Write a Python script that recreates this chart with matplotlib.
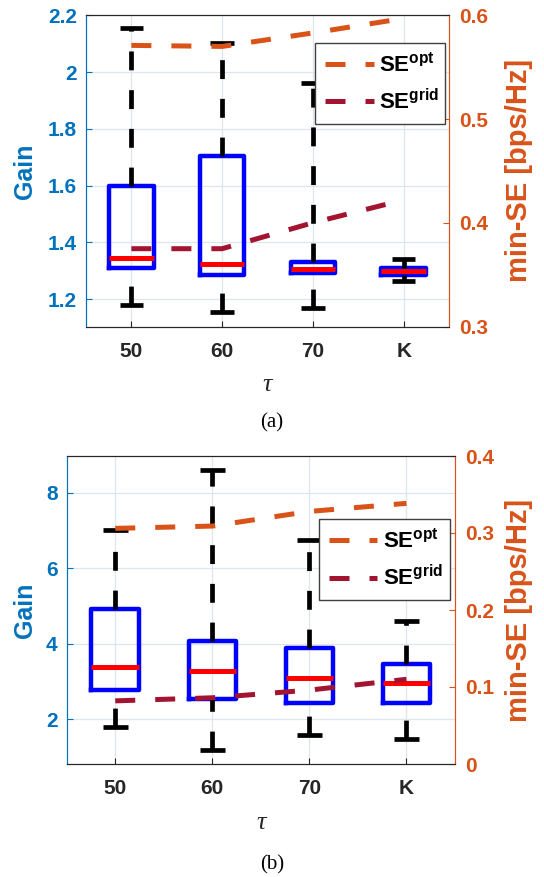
import matplotlib
matplotlib.use("Agg")
import matplotlib.pyplot as plt

plt.rcParams['font.family'] = ['Liberation Sans', 'DejaVu Sans']
plt.rcParams['mathtext.fontset'] = 'custom'
plt.rcParams['mathtext.rm'] = 'Liberation Sans:bold'
plt.rcParams['mathtext.bf'] = 'Liberation Sans:bold'
plt.rcParams['mathtext.it'] = 'Liberation Sans:bold'

categories = ['50', '60', '70', 'K']

# Panel (a) box statistics (Gain)
a_whislo = [1.179, 1.154, 1.168, 1.263]
a_q1 = [1.310, 1.285, 1.293, 1.287]
a_med = [1.345, 1.324, 1.305, 1.300]
a_q3 = [1.600, 1.706, 1.331, 1.311]
a_whishi = [2.156, 2.104, 1.961, 1.340]
a_yticks = [1.2, 1.4, 1.6, 1.8, 2.0, 2.2]
a_yticklabels = ['1.2', '1.4', '1.6', '1.8', '2', '2.2']
# Panel (a) min-SE
a_se_opt = [0.571, 0.570, 0.583, 0.597]
a_se_grid = [0.375, 0.375, 0.400, 0.422]
a_yticks2 = [0.3, 0.4, 0.5, 0.6]
a_yticklabels2 = ['0.3', '0.4', '0.5', '0.6']

# Panel (b) box statistics (Gain)
b_whislo = [1.79, 1.19, 1.59, 1.47]
b_q1 = [2.79, 2.55, 2.44, 2.44]
b_med = [3.38, 3.29, 3.09, 2.96]
b_q3 = [4.91, 4.07, 3.88, 3.46]
b_whishi = [7.01, 8.60, 6.76, 4.60]
b_yticks = [2, 4, 6, 8]
b_yticklabels = ['2', '4', '6', '8']
# Panel (b) min-SE
b_se_opt = [0.306, 0.309, 0.328, 0.3385]
b_se_grid = [0.082, 0.086, 0.096, 0.110]
b_yticks2 = [0, 0.1, 0.2, 0.3, 0.4]
b_yticklabels2 = ['0', '0.1', '0.2', '0.3', '0.4']

BLUE_AX = '#0072BD'
ORANGE = '#D95319'
DARKRED = '#A2142F'
DARK = '#262626'

W, H = 544, 877
fig = plt.figure(figsize=(W / 100, H / 100), dpi=100)


def px_axes(l, t, r, b):
    return fig.add_axes([l / W, 1 - b / H, (r - l) / W, (b - t) / H])


def panel(rect, whislo, q1, med, q3, whishi, se_opt, se_grid, ylim, yticks, yticklabels,
          ylim2, yticks2, yticklabels2, leg_box, tau_y, cap_y, cap):
    ax = px_axes(*rect)
    stats = []
    for i in range(len(categories)):
        stats.append(dict(whislo=whislo[i], q1=q1[i], med=med[i], q3=q3[i],
                          whishi=whishi[i], fliers=[], label=categories[i]))
    pos = list(range(1, len(categories) + 1))
    res = ax.bxp(stats, positions=pos, widths=0.49, capwidths=0.26, showfliers=False,
                 boxprops=dict(color='#0000FF', lw=3.2),
                 medianprops=dict(color='#FF0000', lw=3.6, solid_capstyle='butt'),
                 whiskerprops=dict(color='k', lw=3.4, linestyle=(0, (4.0, 4.2))),
                 capprops=dict(color='k', lw=3.4, solid_capstyle='butt'))
    # draw whiskers bottom-to-top so the dash phase matches
    for line in res['whiskers']:
        xd, yd = line.get_data()
        if yd[1] < yd[0]:
            line.set_data(list(xd)[::-1], list(yd)[::-1])
    ax.set_xlim(0.5, 4.5)
    ax.set_ylim(*ylim)
    ax.set_yticks(yticks)
    ax.set_yticklabels(yticklabels, fontsize=15, fontweight='bold', color=BLUE_AX)
    ax.set_xticks(pos)
    ax.set_xticklabels(categories, fontsize=15, fontweight='bold', color=DARK)
    ax.tick_params(axis='y', colors=BLUE_AX, direction='in', length=4, pad=6.5)
    ax.tick_params(axis='x', direction='in', length=4, pad=11, color=DARK)
    ax.grid(True, color='#dfe5ec', lw=0.9)
    ax.set_axisbelow(True)
    for sp, c in (('left', BLUE_AX), ('top', DARK), ('bottom', DARK), ('right', ORANGE)):
        ax.spines[sp].set_color(c)

    ax2 = ax.twinx()
    ax2.plot(pos, se_opt, color=ORANGE, lw=3.6, linestyle=(0, (4, 4)),
             label=r'SE$^{\mathrm{opt}}$')
    ax2.plot(pos, se_grid, color=DARKRED, lw=3.6, linestyle=(0, (4, 4)),
             label=r'SE$^{\mathrm{grid}}$')
    ax2.set_ylim(*ylim2)
    ax2.set_yticks(yticks2)
    ax2.set_yticklabels(yticklabels2, fontsize=15, fontweight='bold', color=ORANGE)
    ax2.tick_params(axis='y', colors=ORANGE, direction='in', length=4, pad=7)
    for sp, c in (('left', BLUE_AX), ('top', DARK), ('bottom', DARK), ('right', ORANGE)):
        ax2.spines[sp].set_color(c)

    l, t, r, b = leg_box
    leg = ax2.legend(loc='upper left',
                     bbox_to_anchor=(l / W, 1 - b / H, (r - l) / W, (b - t) / H),
                     bbox_transform=fig.transFigure, mode='expand', fancybox=False,
                     framealpha=1, edgecolor='#404040',
                     prop=dict(size=16, weight='bold'),
                     handlelength=2.2, labelspacing=0.55, borderpad=0.45,
                     handletextpad=0.25, borderaxespad=0)
    leg.get_frame().set_linewidth(1.0)

    yc = 1 - ((rect[1] + rect[3]) / 2) / H
    fig.text(25 / W, yc, 'Gain', rotation=90, fontsize=18, fontweight='bold',
             color=BLUE_AX, ha='center', va='center')
    fig.text(519 / W, yc, 'min-SE [bps/Hz]', rotation=90, fontsize=21,
             fontweight='bold', color=ORANGE, ha='center', va='center')
    cx = ((rect[0] + rect[2]) / 2) / W
    fig.text(cx, 1 - tau_y / H, 'τ', fontsize=19, style='italic',
             family=['Liberation Serif', 'DejaVu Serif'], ha='center', va='center',
             color=DARK)
    fig.text(272 / W, 1 - cap_y / H, cap, fontsize=15,
             family=['Liberation Serif', 'DejaVu Serif'], ha='center', va='center')
    return ax, ax2


panel((86, 15.3, 449, 326.5), a_whislo, a_q1, a_med, a_q3, a_whishi, a_se_opt, a_se_grid,
      (1.104, 2.2), a_yticks, a_yticklabels,
      (0.3, 0.6), a_yticks2, a_yticklabels2,
      (315, 42.7, 445, 119.3), 385, 423, '(a)')

panel((66.7, 456, 455, 764), b_whislo, b_q1, b_med, b_q3, b_whishi, b_se_opt, b_se_grid,
      (0.82, 8.97), b_yticks, b_yticklabels,
      (0.0, 0.4), b_yticks2, b_yticklabels2,
      (318.5, 519, 450, 595), 823, 865, '(b)')

fig.savefig('out.png', dpi=100)
